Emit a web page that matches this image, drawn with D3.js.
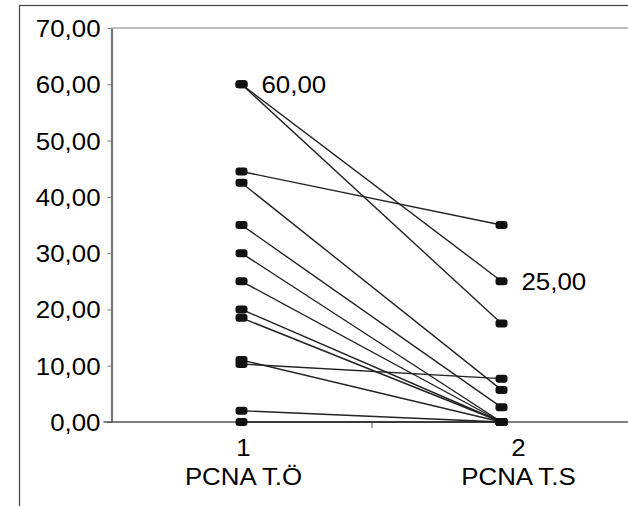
<!DOCTYPE html>
<html>
<head>
<meta charset="utf-8">
<script src="https://cdn.jsdelivr.net/npm/d3@7"></script>
<style>
  body { margin: 0; background: #fff; }
  svg { display: block; font-family: "Liberation Sans", Arial, Helvetica, sans-serif; }
</style>
</head>
<body>
<div id="chart"></div>
<script>
// --- Paired PCNA values (before / after) ---
const categoryCodes = [1, 2];
const categoryNames = ["PCNA T.Ö", "PCNA T.S"];
const valuesBefore = [60, 60, 44.5, 42.5, 35, 30, 25, 20, 18.5, 11, 10.3, 2, 0];
const valuesAfter  = [25, 17.5, 35, 5.7, 2.6, 0, 0, 0, 0, 0, 7.7, 0, 0];
const yTickValues = [0, 10, 20, 30, 40, 50, 60, 70];
const labelCodes = [1, 2];
const labelValues = [60, 25];

(function(){
    const W = 628, H = 506;
    const fontSize = 23.5;
    const stretch = 1.1; // text in the picture is a bit wide

    const locale = d3.formatLocale({ decimal: ",", thousands: ".", grouping: [3], currency: ["", ""] });
    const fmt = locale.format(".2f");

    const svg = d3.select("#chart").append("svg")
        .attr("width", W)
        .attr("height", H);

    // outer frame (runs off the right and bottom)
    svg.append("rect")
        .attr("x", 19.5).attr("y", 5.5)
        .attr("width", 640).attr("height", 520)
        .attr("fill", "none")
        .attr("stroke", "#444")
        .attr("stroke-width", 1.2);

    // --- Scales ---
    const x = d3.scaleLinear().domain([0.5, 2.5]).range([111.5, 631.5]);
    const y = d3.scaleLinear().domain([0, 70]).range([422, 28]);

    // top border of plot area
    svg.append("line")
        .attr("x1", x(0.5)).attr("x2", W)
        .attr("y1", y(70)).attr("y2", y(70))
        .attr("stroke", "#aaa").attr("stroke-width", 1.5);

    // --- Y axis ---
    const yAxis = svg.append("g")
        .attr("transform", `translate(${x(0.5)},0)`)
        .call(d3.axisLeft(y).tickValues(yTickValues).tickSize(4).tickSizeOuter(0).tickFormat(fmt));
    yAxis.select(".domain").attr("stroke", "#777").attr("stroke-width", 2.2);
    yAxis.selectAll(".tick line").attr("stroke", "#777");
    yAxis.selectAll(".tick text")
        .attr("x", null).attr("dy", null)
        .attr("fill", "#000")
        .style("font-size", fontSize + "px")
        .attr("transform", `translate(-11,8.5) scale(${stretch},1)`);

    // --- X axis ---
    const xAxis = svg.append("g")
        .attr("transform", `translate(0,${y(0)})`)
        .call(d3.axisBottom(x).tickValues([1.5]).tickSize(6).tickSizeOuter(0).tickFormat(""));
    xAxis.select(".domain").attr("d", `M${x(0.5) - 8},0H${W}`).attr("stroke", "#555").attr("stroke-width", 1.6);
    xAxis.selectAll(".tick line").attr("stroke", "#555");

    // category labels
    const labelShift = [2, 17];
    categoryCodes.forEach((c, i) => {
        const g = svg.append("g")
            .attr("transform", `translate(${x(c) + labelShift[i]},0) scale(${stretch},1)`)
            .attr("text-anchor", "middle")
            .style("font-size", fontSize + "px");
        g.append("text").attr("y", 456.5).text(c);
        g.append("text").attr("y", 485).text(categoryNames[i]);
    });

    // --- Paired lines ---
    const line = d3.line().x(d => x(d[0])).y(d => y(d[1]));
    const pairs = valuesBefore.map((v, i) => [[1, v], [2, valuesAfter[i]]]);

    svg.append("g").selectAll("path")
        .data(pairs)
        .join("path")
        .attr("d", line)
        .attr("fill", "none")
        .attr("stroke", "#222")
        .attr("stroke-width", 1.4);

    // --- Markers ---
    const points = [];
    valuesBefore.forEach(v => points.push([1, v]));
    valuesAfter.forEach(v => points.push([2, v]));

    svg.append("g").selectAll("rect")
        .data(points)
        .join("rect")
        .attr("x", d => x(d[0]) - 6)
        .attr("y", d => y(d[1]) - 4)
        .attr("width", 12)
        .attr("height", 8)
        .attr("rx", 3)
        .attr("fill", "#111");

    // --- Value labels ---
    labelCodes.forEach((c, i) => {
        svg.append("text")
            .attr("transform", `translate(${x(c) + 20},${y(labelValues[i]) + 8.5}) scale(${stretch},1)`)
            .style("font-size", fontSize + "px")
            .text(fmt(labelValues[i]));
    });
})();
</script>
</body>
</html>
